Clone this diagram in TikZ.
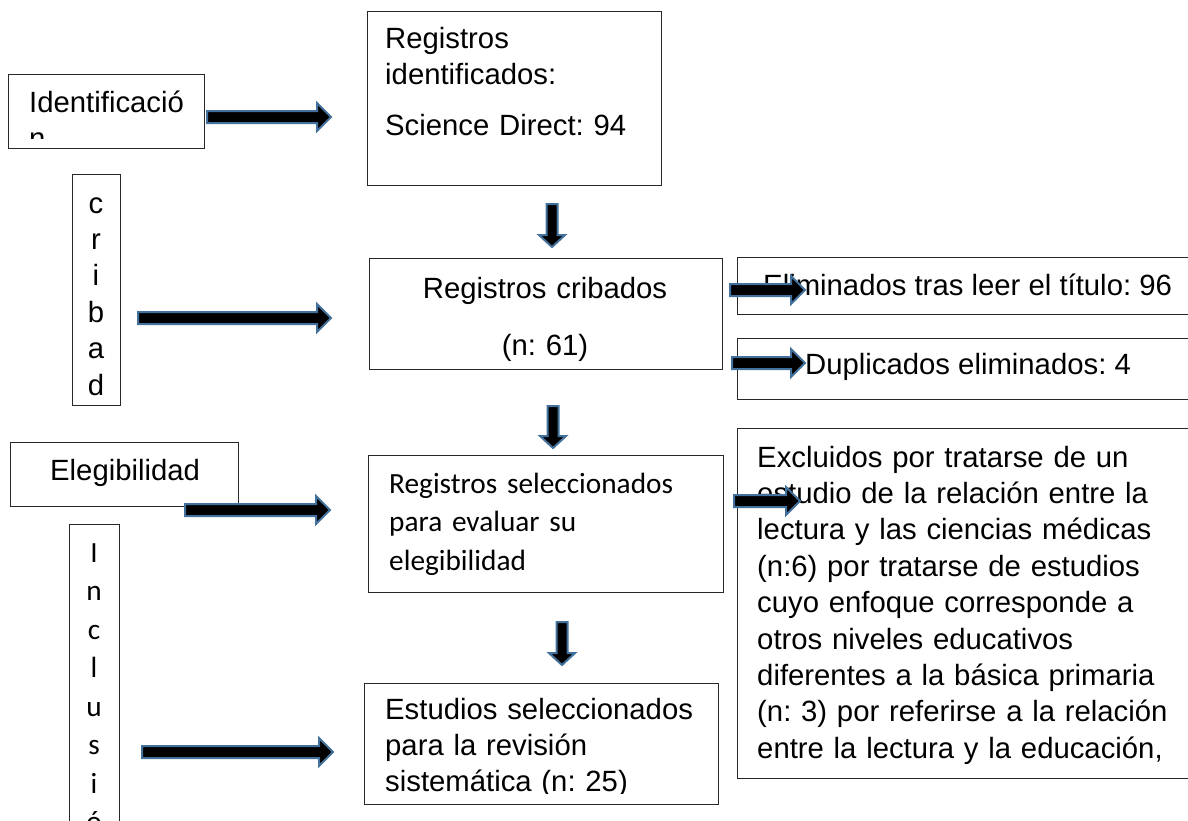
\documentclass[tikz,border=0pt]{standalone}
\usepackage{fontspec}
\setmainfont{Liberation Sans}
\newfontfamily\calfont{Carlito}
\frenchspacing
\definecolor{arrowblue}{RGB}{65,113,156}
\definecolor{boxline}{RGB}{40,40,40}
\tikzset{
  box/.style={draw=boxline, line width=1.3pt, anchor=north west, inner sep=0pt},
  ar/.style={font=\fontsize{29.3}{36.4}\selectfont\frenchspacing, inner sep=0pt, anchor=base west, align=left},
  cal/.style={font=\calfont\fontsize{29.3}{38.5}\selectfont\frenchspacing, inner sep=0pt, anchor=base west, align=left},
  blockarrow/.style={draw=arrowblue, fill=black, line width=2pt, line join=miter}
}
\newcommand\harr[3]{\draw[blockarrow] (#1,#3-6) -- (#2-14,#3-6) -- (#2-14,#3-14) -- (#2,#3) -- (#2-14,#3+14) -- (#2-14,#3+6) -- (#1,#3+6) -- cycle;}
\newcommand\varr[3]{\draw[blockarrow] (#1-5.5,#2) -- (#1-5.5,#3-12) -- (#1-13,#3-12) -- (#1,#3) -- (#1+13,#3-12) -- (#1+5.5,#3-12) -- (#1+5.5,#2) -- cycle;}
\begin{document}
\begin{tikzpicture}[x=1pt,y=-1pt]
\useasboundingbox (0,0) rectangle (1188,820);
\clip (0,0) rectangle (1188,820);
\fill[white] (0,0) rectangle (1188,820);

% boxes
\node[box, minimum width=196, minimum height=74] (idbox) at (8,74) {};
\node[box, minimum width=294, minimum height=174] (regid) at (367,11) {};
\node[box, minimum width=48, minimum height=231] (cribbox) at (72,174) {};
\node[box, minimum width=353, minimum height=111] (regcrib) at (369,258) {};
\node[box, minimum width=470, minimum height=57] (elim) at (737,257) {};
\node[box, minimum width=470, minimum height=61] (dup) at (737,338) {};
\node[box, minimum width=228, minimum height=64] (eleg) at (10,442) {};
\node[box, minimum width=50, minimum height=330] (inclbox) at (69,524) {};
\node[box, minimum width=355, minimum height=137] (regsel) at (368,455) {};
\node[box, minimum width=354, minimum height=121] (estud) at (364,683) {};
\node[box, minimum width=470, minimum height=350] (excl) at (737,428) {};

% texts
\begin{scope}
\clip (9,75) rectangle (203,138);
\node[ar, text width=190] (tid) at (29,112) {Identificació\\n};
\end{scope}
\node[ar, text width=280] (tregid) at (385,48) {Registros\\identificados:\\[14.6pt]Science Direct: 94};
\node[ar, text width=30, align=center, anchor=base] (tcrib) at (96,213) {c\\r\\i\\b\\a\\d};
\node[ar, text width=340, align=center, anchor=base] (tregcrib) at (545,298) {Registros cribados\\[20.6pt](n: 61)};
\node[ar] (telim) at (763,295) {Eliminados tras leer el título: 96};
\node[ar] (tdup) at (805,374) {Duplicados eliminados: 4};
\node[ar] (teleg) at (50,480) {Elegibilidad};
\node[cal, text width=30, align=center, anchor=base] (tincl) at (94,562) {I\\n\\c\\l\\u\\s\\i\\ó};
\node[cal, text width=330] (tregsel) at (389,493) {Registros seleccionados\\para evaluar su\\elegibilidad};
\begin{scope}
\clip (365,684) rectangle (717,793);
\node[ar, text width=330] (testud) at (385,719) {Estudios seleccionados\\para la revisión\\sistemática (n: 25)};
\end{scope}
\node[ar, text width=440] (texcl) at (757,467) {Excluidos por tratarse de un\\estudio de la relación entre la\\lectura y las ciencias médicas\\(n:6) por tratarse de estudios\\cuyo enfoque corresponde a\\otros niveles educativos\\diferentes a la básica primaria\\(n: 3) por referirse a la relación\\entre la lectura y la educación,};

% block arrows
\harr{207}{331}{117}
\harr{138}{331}{318}
\harr{185}{330}{510}
\harr{142}{333}{752}
\harr{730}{805}{290}
\harr{732}{805}{363}
\harr{734}{800}{501}
\varr{552}{204}{247}
\varr{553}{406}{448}
\varr{562}{622}{665}
\end{tikzpicture}
\end{document}
